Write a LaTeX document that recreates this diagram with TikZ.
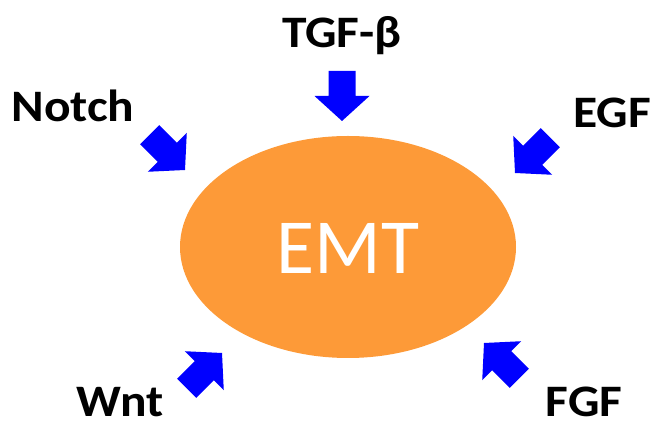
\documentclass[tikz,border=0pt]{standalone}
\usepackage{fontspec}
\setmainfont{Carlito}
\usepackage{graphicx}
\definecolor{emtorange}{RGB}{253,154,56}
\definecolor{sigblue}{RGB}{0,0,255}
\tikzset{
  siglabel/.style={anchor=base, inner sep=0pt, font=\fontsize{45}{50}\selectfont\bfseries},
  blockarrow/.pic={
    \fill[sigblue] (0,0) -- (-25,27.5) -- (-25,13.5) -- (-50,13.5)
      -- (-50,-13.5) -- (-25,-13.5) -- (-25,-27.5) -- cycle;
  }
}
\newcommand{\wide}[1]{\scalebox{1.1}[1]{#1}}
\begin{document}
\begin{tikzpicture}[x=1pt,y=1pt]
  \useasboundingbox (0,0) rectangle (654,428);
  % central process
  \fill[emtorange] (348,181) ellipse [x radius=168, y radius=111];
  \node[anchor=base, inner sep=0pt, text=white,
        font=\fontsize{78}{82}\selectfont] (emt) at (348,154) {EMT};
  % signalling inputs
  \node[siglabel] (notch) at (73,306)  {\wide{Notch}};
  \node[siglabel] (tgfb)  at (342,380) {\wide{TGF-β}};
  \node[siglabel] (egf)   at (612,300) {\wide{EGF}};
  \node[siglabel] (wnt)   at (120,11)  {\wide{Wnt}};
  \node[siglabel] (fgf)   at (584,11)  {\wide{FGF}};
  % block arrows pointing at the ellipse
  \pic[shift={(185,258)}, rotate=-45]  {blockarrow};
  \pic[shift={(342,307)}, rotate=-90]  {blockarrow};
  \pic[shift={(515,255)}, rotate=-135] {blockarrow};
  \pic[shift={(222,75)},  rotate=45]   {blockarrow};
  \pic[shift={(484,85)},  rotate=135]  {blockarrow};
\end{tikzpicture}
\end{document}
